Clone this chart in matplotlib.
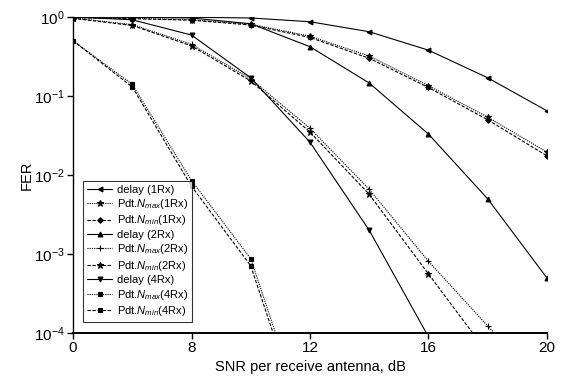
import numpy as np
import matplotlib
matplotlib.use("Agg")
import matplotlib.pyplot as plt

plt.rcParams['font.family'] = ['Liberation Sans', 'DejaVu Sans']
plt.rcParams['mathtext.fontset'] = 'custom'
plt.rcParams['mathtext.rm'] = 'Liberation Sans'
plt.rcParams['mathtext.it'] = 'Liberation Sans:italic'

# SNR points (dB)
snr = [4, 6, 8, 10, 12, 14, 16, 18, 20]
xticks = [4, 8, 12, 16, 20]
xtick_labels = ['0', '8', '12', '16', '20']

# FER values
delay_1rx = [1.0, 1.0, 0.99, 0.97, 0.87, 0.65, 0.38, 0.17, 0.065]
nmax_1rx = [0.98, 0.96, 0.92, 0.81, 0.57, 0.32, 0.135, 0.054, 0.0195]
nmin_1rx = [0.98, 0.95, 0.91, 0.79, 0.55, 0.30, 0.128, 0.050, 0.0175]

delay_2rx = [1.0, 0.99, 0.97, 0.82, 0.42, 0.146, 0.033, 0.005, 0.0005]
nmax_2rx = [0.97, 0.80, 0.45, 0.165, 0.039, 0.0066, 0.00081, 0.000123, 0.00002]
nmin_2rx = [0.96, 0.78, 0.43, 0.155, 0.035, 0.0057, 0.00056, 0.000056]

delay_4rx = [1.0, 0.92, 0.59, 0.17, 0.026, 0.0020, 0.00009]
nmax_4rx = [0.5, 0.14, 0.0085, 0.00087, 0.000005]
nmin_4rx = [0.5, 0.13, 0.0072, 0.00071, 0.000004]

labels = ['delay (1Rx)', r'Pdt.$N_{max}$(1Rx)', r'Pdt.$N_{min}$(1Rx)',
          'delay (2Rx)', r'Pdt.$N_{max}$(2Rx)', r'Pdt.$N_{min}$(2Rx)',
          'delay (4Rx)', r'Pdt.$N_{max}$(4Rx)', r'Pdt.$N_{min}$(4Rx)']

series = [delay_1rx, nmax_1rx, nmin_1rx,
          delay_2rx, nmax_2rx, nmin_2rx,
          delay_4rx, nmax_4rx, nmin_4rx]

styles = ['-', (0, (1, 1)), (0, (3, 1.5))] * 3
markers = ['<', '*', 'D', '^', '+', '*', 'v', 's', 's']
msizes = [3.5, 5, 2.8, 3.5, 5, 4.5, 3.5, 3.5, 3.5]

fig = plt.figure(figsize=(5.62, 3.85), dpi=100)
ax = fig.add_axes([0.130, 0.135, 0.843, 0.821])

for y, lab, ls, mk, ms in zip(series, labels, styles, markers, msizes):
    ax.semilogy(snr[:len(y)], y, color='black', linestyle=ls, linewidth=0.8,
                marker=mk, markersize=ms, markeredgewidth=0.8, label=lab)

ax.set_xlim(4, 20)
ax.set_ylim(1e-4, 1)
ax.set_xticks(xticks)
ax.set_xticklabels(xtick_labels)
ax.yaxis.set_major_locator(matplotlib.ticker.LogLocator(base=10, numticks=10))
ax.yaxis.set_minor_locator(matplotlib.ticker.NullLocator())

ax.spines['top'].set_visible(False)
ax.spines['right'].set_visible(False)
ax.spines['left'].set_linewidth(1.0)
ax.spines['bottom'].set_linewidth(1.4)
ax.tick_params(direction='out', length=4, width=1, labelsize=11, pad=2)

ax.set_xlabel('SNR per receive antenna, dB', fontsize=10.5, labelpad=3)
ax.set_ylabel('FER', fontsize=10.5, labelpad=0)

leg = ax.legend(loc='lower left', bbox_to_anchor=(0.021, 0.035), fontsize=8,
                frameon=True, fancybox=False, edgecolor='black',
                handlelength=2.3, handletextpad=0.4, labelspacing=0.22,
                borderpad=0.35, borderaxespad=0)
leg.get_frame().set_linewidth(0.8)

fig.savefig('out.png', dpi=100)
